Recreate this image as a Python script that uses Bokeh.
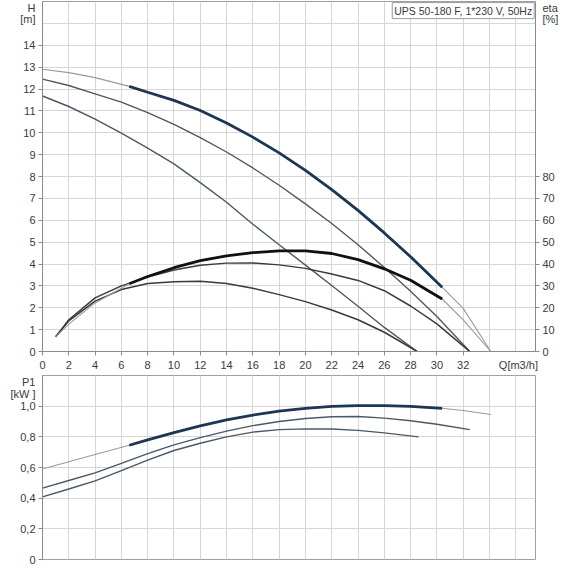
from bokeh.plotting import figure
from bokeh.models import Range1d, LinearAxis, FixedTicker
from bokeh.models import Label
from bokeh.layouts import column
from bokeh.embed import file_html
from bokeh.resources import INLINE

# ---------------- data ----------------
title_text = "UPS 50-180 F, 1*230 V, 50Hz"

# operating range of the speed-3 curves (thick part)
q_op_min = 6.6
q_op_max = 30.4

# H [m] curves
q_h1 = [0, 2, 4, 6.6, 8, 10, 12, 14, 16, 18, 20, 22, 24, 26, 28, 30.4, 32, 34.1]
h1 = [12.9, 12.75, 12.52, 12.12, 11.85, 11.48, 11.02, 10.45, 9.8, 9.08, 8.28, 7.4, 6.45, 5.42, 4.33, 2.94, 1.97, 0.0]

q_h2 = [0, 2, 4, 6, 8, 10, 12, 14, 16, 18, 20, 22, 24, 26, 28, 30, 32.5]
h2 = [12.45, 12.16, 11.78, 11.4, 10.92, 10.38, 9.78, 9.12, 8.39, 7.6, 6.75, 5.85, 4.88, 3.84, 2.75, 1.6, 0.0]

q_h3 = [0, 2, 4, 6, 8, 10, 12, 14, 16, 18, 20, 22, 24, 26, 28.5]
h3 = [11.68, 11.2, 10.62, 9.98, 9.3, 8.58, 7.72, 6.82, 5.82, 4.88, 3.95, 3.02, 2.07, 1.1, 0.0]

# eta [%] curves
q_e1 = [1, 2, 4, 6.6, 8, 10, 12, 14, 16, 18, 20, 22, 24, 26, 28, 30.4, 32, 34.1]
e1 = [6.7, 12.5, 22.2, 31.0, 34.3, 38.3, 41.5, 43.7, 45.2, 46.0, 46.0, 44.8, 42.0, 37.8, 32.6, 24.0, 14.5, 0.0]

q_e2 = [1, 2, 4, 6, 8, 10, 12, 14, 16, 18, 20, 22, 24, 26, 28, 30, 32.5]
e2 = [6.7, 14.5, 24.5, 30.0, 34.0, 37.3, 39.4, 40.4, 40.5, 39.6, 38.0, 35.4, 32.5, 27.8, 20.8, 12.6, 0.0]

q_e3 = [1, 2, 4, 6, 8, 10, 12, 14, 16, 18, 20, 22, 24, 26, 28.5]
e3 = [6.7, 14.0, 23.0, 28.3, 31.1, 31.9, 32.1, 31.1, 28.9, 26.0, 22.8, 19.0, 14.5, 8.8, 0.0]

# P1 [kW] curves
q_p1 = [0, 2, 4, 6.6, 8, 10, 12, 14, 16, 18, 20, 22, 24, 26, 28, 30.4, 32, 34.1]
p1v = [0.59, 0.637, 0.685, 0.745, 0.78, 0.828, 0.872, 0.91, 0.942, 0.967, 0.986, 0.998, 1.003, 1.003, 0.998, 0.986, 0.972, 0.946]

q_p2 = [0, 2, 4, 6, 8, 10, 12, 14, 16, 18, 20, 22, 24, 26, 28, 30, 32.5]
p2v = [0.465, 0.515, 0.565, 0.627, 0.69, 0.748, 0.795, 0.837, 0.873, 0.9, 0.92, 0.931, 0.933, 0.922, 0.905, 0.882, 0.847]

q_p3 = [0, 2, 4, 6, 8, 10, 12, 14, 16, 18, 20, 22, 24, 26, 28.6]
p3v = [0.408, 0.46, 0.513, 0.58, 0.648, 0.711, 0.758, 0.8, 0.831, 0.847, 0.852, 0.851, 0.842, 0.826, 0.8]

# ticks and axis texts
x_grid = list(range(0, 37, 2))
x_label_ticks = list(range(0, 33, 2))
x_name_pos = 36.2
x_name = "Q[m3/h]"
h_grid = list(range(0, 17))
h_label_ticks = list(range(0, 15))
h_name_pos = [15.72, 15.2]
h_name = ["H", "[m]"]
eta_label_ticks = list(range(0, 81, 10))
eta_name_pos = [157.2, 152.0]
eta_name = ["eta", "[%]"]
p_grid = [0, 0.2, 0.4, 0.6, 0.8, 1.0, 1.2]
p_label_ticks = [0, 0.2, 0.4, 0.6, 0.8, 1.0]
p_label_text = ["0", "0,2", "0,4", "0,6", "0,8", "1,0"]
p_name_pos = [1.155, 1.078]
p_name = ["P1", "[kW ]"]

# ---------------- styling ----------------
FONT = "Liberation Sans"
C_THICK = "#1d3652"
C_MID = "#4b5866"
C_THIN = "#9a9a9a"
C_ETA = "#111111"
C_ETA_MID = "#3a3a3a"
GRID = "#d6d6d6"
AXIS = "#8a8a8a"
TXT = "#3a3a3a"


def op_slice(q, v):
    qs, vs = [], []
    for a, b in zip(q, v):
        if q_op_min <= a <= q_op_max:
            qs.append(a)
            vs.append(b)
    return qs, vs


def style_axis(ax):
    ax.axis_line_color = AXIS
    ax.major_tick_line_color = None      # labels only from major ticks
    ax.minor_tick_line_color = AXIS      # visible tick marks from minor ticks
    ax.major_tick_in = 0
    ax.major_tick_out = 4
    ax.minor_tick_in = 0
    ax.minor_tick_out = 4
    ax.major_label_text_font = FONT
    ax.major_label_text_font_size = "11px"
    ax.major_label_text_color = TXT
    ax.major_label_standoff = 3


def make_ticker(label_ticks, name_pos):
    return FixedTicker(ticks=list(label_ticks) + list(name_pos), minor_ticks=list(label_ticks))


# ---------------- top chart: H / eta ----------------
pt = figure(frame_width=493, frame_height=350, x_range=Range1d(0, 37.5), y_range=Range1d(0, 16),
            output_backend="svg", toolbar_location=None,
            min_border_left=42, min_border_right=20, min_border_top=1, min_border_bottom=0,
            background_fill_color="white", border_fill_color="white")
pt.extra_y_ranges = {"eta": Range1d(0, 160)}
pt.outline_line_color = "#a0a0a0"

pt.xaxis.ticker = make_ticker(x_label_ticks, [x_name_pos])
pt.xaxis.major_label_overrides = {x_name_pos: x_name}
pt.yaxis.ticker = make_ticker(h_label_ticks, h_name_pos)
pt.yaxis.major_label_overrides = dict(zip(h_name_pos, h_name))
eta_axis = LinearAxis(y_range_name="eta", ticker=make_ticker(eta_label_ticks, eta_name_pos))
eta_axis.major_label_overrides = dict(zip(eta_name_pos, eta_name))
pt.add_layout(eta_axis, "right")
for ax in pt.axis:
    style_axis(ax)
pt.xgrid.ticker = FixedTicker(ticks=x_grid)
pt.ygrid.ticker = FixedTicker(ticks=h_grid)
pt.grid.grid_line_color = GRID
pt.grid.grid_line_width = 1

# H curves
pt.line(q_h3, h3, line_color=C_MID, line_width=1.4)
pt.line(q_h2, h2, line_color=C_MID, line_width=1.4)
pt.line(q_h1, h1, line_color=C_THIN, line_width=1.1)
qs, vs = op_slice(q_h1, h1)
pt.line(qs, vs, line_color=C_THICK, line_width=2.8)

# eta curves
pt.line(q_e3, e3, y_range_name="eta", line_color=C_ETA_MID, line_width=1.5)
pt.line(q_e2, e2, y_range_name="eta", line_color=C_ETA_MID, line_width=1.5)
pt.line(q_e1, e1, y_range_name="eta", line_color=C_THIN, line_width=1.1)
qs, vs = op_slice(q_e1, e1)
pt.line(qs, vs, y_range_name="eta", line_color=C_ETA, line_width=2.8)

pt.add_layout(Label(x=37.4, y=15.95, text=title_text, text_align="right", text_baseline="top",
                    text_font=FONT, text_font_size="10.5px", text_color=TXT,
                    border_line_color="#9a9a9a", border_line_width=1,
                    background_fill_color="white", padding=2))

# ---------------- bottom chart: P1 ----------------
pb = figure(frame_width=493, frame_height=184, x_range=pt.x_range, y_range=Range1d(0, 1.2),
            output_backend="svg", toolbar_location=None,
            min_border_left=42, min_border_right=20, min_border_top=2, min_border_bottom=7,
            background_fill_color="white", border_fill_color="white")
pb.outline_line_color = "#a0a0a0"
pb.xaxis.visible = False
pb.xgrid.ticker = FixedTicker(ticks=x_grid)
pb.yaxis.ticker = make_ticker(p_label_ticks, p_name_pos)
overrides = dict(zip(p_label_ticks, p_label_text))
overrides.update(dict(zip(p_name_pos, p_name)))
pb.yaxis.major_label_overrides = overrides
for ax in pb.yaxis:
    style_axis(ax)
pb.ygrid.ticker = FixedTicker(ticks=p_grid)
pb.grid.grid_line_color = GRID
pb.grid.grid_line_width = 1

pb.line(q_p3, p3v, line_color=C_MID, line_width=1.4)
pb.line(q_p2, p2v, line_color=C_MID, line_width=1.4)
pb.line(q_p1, p1v, line_color=C_THIN, line_width=1.1)
qs, vs = op_slice(q_p1, p1v)
pb.line(qs, vs, line_color=C_THICK, line_width=2.8)

layout = column(pt, pb)
open("out.html", "w").write(file_html(layout, INLINE))
